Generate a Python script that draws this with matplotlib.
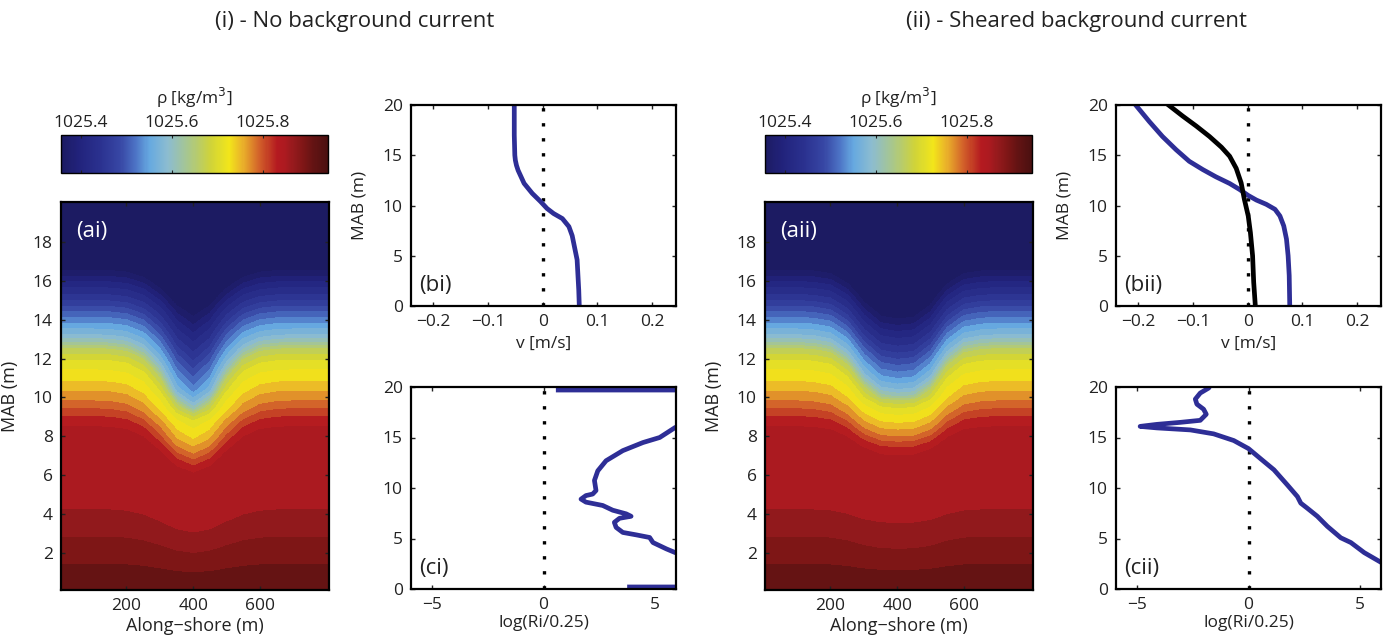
import numpy as np
import matplotlib
matplotlib.use("Agg")
import matplotlib.pyplot as plt
from matplotlib.colors import LinearSegmentedColormap, Normalize
from matplotlib.cm import ScalarMappable

plt.rcParams['font.family'] = ['Open Sans', 'DejaVu Sans']
plt.rcParams['font.size'] = 12
plt.rcParams['text.color'] = '#222222'
plt.rcParams['xtick.color'] = '#222222'
plt.rcParams['ytick.color'] = '#222222'
plt.rcParams['axes.labelcolor'] = '#222222'

# background density profile (far field), MAB vs rho
z_bg = [0, 1.4, 2.8, 4.2, 8.5, 9.0, 9.4, 9.8, 10.3, 10.8, 11.4, 11.9, 12.2,
        12.5, 12.8, 13.2, 13.8, 14.4, 15.1, 15.8, 16.5, 17.5, 20]
rho_bg = [1025.918, 1025.90, 1025.88, 1025.86, 1025.84, 1025.82, 1025.80,
          1025.78, 1025.76, 1025.74, 1025.72, 1025.70, 1025.68, 1025.66,
          1025.62, 1025.58, 1025.54, 1025.50, 1025.45, 1025.41, 1025.36,
          1025.35, 1025.345]

# isopycnal depression: along-shore shape and vertical amplitude (m)
x_dip = [0, 100, 150, 200, 250, 300, 350, 400, 450, 500, 550, 600, 650, 700, 810]
shape_i = [0, 0, 0.01, 0.05, 0.18, 0.45, 0.82, 1.0, 0.82, 0.45, 0.18, 0.05, 0.01, 0, 0]
shape_ii = [0, 0, 0.02, 0.08, 0.3, 0.7, 0.95, 1.0, 0.97, 0.75, 0.32, 0.08, 0.02, 0, 0]
z_amp_i = [0, 1.0, 1.97, 3.0, 6.45, 7.8, 8.7, 9.4, 10.4, 14.4, 20]
amp_i = [0, 0.45, 0.85, 1.2, 2.55, 3.0, 3.1, 3.5, 3.6, 2.3, 1.2]
z_amp_ii = [0, 2.1, 3.45, 7.4, 8.3, 9.65, 10.0, 11.0, 14.0, 20]
amp_ii = [0, 0.62, 0.7, 1.6, 2.0, 2.6, 2.8, 2.85, 2.5, 1.5]

# velocity profiles
z_bi = [20, 17, 15, 14.5, 14, 13.5, 12.2, 11.2, 10.4, 9.7, 9.2, 8.7, 7.9, 7,
        6.2, 4.6, 1.6, 0]
v_bi = [-0.052, -0.052, -0.051, -0.050, -0.048, -0.045, -0.034, -0.019, -0.004,
        0.008, 0.020, 0.036, 0.048, 0.054, 0.057, 0.063, 0.066, 0.067]
z_bii = [20, 18.35, 16.87, 15.55, 14.4, 13.57, 12.85, 12.19, 11.6, 11.0, 10.54,
         10.12, 9.62, 8.96, 7.97, 6.66, 5.0, 3.03, 0]
v_bii = [-0.205, -0.180, -0.156, -0.131, -0.107, -0.082, -0.058, -0.033, -0.015,
         0.001, 0.016, 0.034, 0.050, 0.059, 0.066, 0.071, 0.074, 0.076, 0.077]
z_bg_cur = [20, 18.9, 17.9, 16.87, 15.8, 14.9, 13.7, 12.26, 10.6, 8.96, 7.3,
            5.0, 2.37, 0]
v_bg_cur = [-0.145, -0.119, -0.094, -0.070, -0.048, -0.033, -0.021, -0.012,
            -0.006, 0.001, 0.005, 0.009, 0.011, 0.014]

# gradient Richardson number profiles
z_ci = [19.7, 19.7, 16.5, 16, 15.0, 14.5, 13.7, 12.7, 11.7, 10.75, 9.75, 9.4,
        9.25, 8.9, 8.6, 8.27, 7.8, 7.44, 7.2, 7.0, 6.6, 6.1, 5.6, 5.36, 5.1,
        4.6, 3.97, 3.6, 3.0, 0.2, 0.2]
ri_ci = [0.66, 9, 9, 5.9, 5.2, 4.45, 3.55, 2.8, 2.43, 2.28, 2.35, 2.2, 1.9,
         1.68, 1.9, 2.65, 3.1, 3.7, 3.92, 3.4, 3.17, 3.25, 3.55, 4.15, 4.75,
         4.9, 5.5, 5.9, 9, 9, 3.85]
z_cii = [20.2, 19.9, 19.4, 18.8, 18.3, 17.8, 17.3, 16.7, 16.5, 16.3, 16.1,
         15.95, 15.75, 15.36, 14.7, 13.9, 12.9, 11.8, 10.3, 9.15, 8.5, 8.0,
         7.2, 6.2, 5.07, 4.6, 3.6, 2.6, 2.0]
ri_cii = [-1.7, -1.78, -2.16, -2.38, -2.31, -2.01, -1.89, -2.16, -3.05, -4.1,
          -4.85, -4.1, -2.6, -1.56, -0.66, 0, 0.54, 1.14, 1.74, 2.19, 2.34,
          2.63, 3.08, 3.53, 4.13, 4.58, 5.18, 5.96, 7.0]

rho_ticks = [1025.4, 1025.6, 1025.8]
rho_min, rho_max = 1025.357, 1025.943

cmap = LinearSegmentedColormap.from_list('rho', [
    (0.00, '#1c1b62'), (0.06, '#21227a'), (0.14, '#2a308e'), (0.22, '#3746a4'),
    (0.28, '#4d74c6'), (0.33, '#66a9e0'), (0.40, '#8cbcd0'), (0.48, '#a9c78a'),
    (0.56, '#cfd33a'), (0.63, '#f2e61a'), (0.68, '#eab22a'), (0.74, '#d4652a'),
    (0.81, '#b41a20'), (0.84, '#ad1a20'), (0.87, '#961a1d'), (0.91, '#7e1616'),
    (0.95, '#621313'), (1.00, '#4a1010')])
levels = np.arange(1025.34, 1025.95, 0.02)
blue = '#2e2e96'

W, H = 1392, 639
fig = plt.figure(figsize=(W / 100, H / 100), dpi=100)


def ax_px(x0, y0, x1, y1):
    return fig.add_axes([x0 / W, 1 - y1 / H, (x1 - x0) / W, (y1 - y0) / H])


def style(ax):
    ax.tick_params(direction='in', top=True, right=True, length=3, width=1,
                   labelsize=12.5, pad=6)
    for s in ax.spines.values():
        s.set_linewidth(1.6)


def density_panel(x0, shape, z_amp, amp, tag):
    norm = Normalize(rho_min, rho_max)
    ax = ax_px(x0, 202, x0 + 268, 590)
    xx = np.arange(5, 806, 5)
    zz = np.arange(0.1, 20.01, 0.05)
    X, Z = np.meshgrid(xx, zz)
    eta = np.interp(Z, z_amp, amp) * np.interp(X, x_dip, shape)
    R = np.interp(Z + eta, z_bg, rho_bg)
    cs = ax.contourf(X, Z, R, levels=levels, cmap=cmap, norm=norm)
    cs.set_edgecolor('face')
    cs.set_linewidth(0.6)
    ax.set_xlim(5, 805)
    ax.set_ylim(0.1, 20.05)
    ax.set_xticks([200, 400, 600])
    ax.set_yticks(range(2, 19, 2))
    ax.set_xlabel('Along\u2212shore (m)', fontsize=13, labelpad=2)
    ax.set_ylabel('MAB (m)', fontsize=13)
    ax.yaxis.set_label_coords(-0.155, 0.5)
    ax.text(0.055, 0.925, tag, transform=ax.transAxes, color='white',
            fontsize=16, ha='left', va='center')
    style(ax)

    cax = ax_px(x0, 135, x0 + 267, 173)
    cb = fig.colorbar(ScalarMappable(norm=norm, cmap=cmap), cax=cax,
                      orientation='horizontal', ticks=rho_ticks)
    cb.ax.set_xticklabels([f'{t:.1f}' for t in rho_ticks])
    cax.xaxis.set_ticks_position('both')
    cax.xaxis.set_label_position('top')
    cax.tick_params(direction='in', length=2, labeltop=True, labelbottom=False,
                    labelsize=12.5, pad=3)
    cb.outline.set_linewidth(1)
    cax.set_xlabel('\u03c1 [kg/m$^3$]', fontsize=12.5, labelpad=8)


def velocity_panel(x0, tag, lines):
    ax = ax_px(x0, 105, x0 + 265, 306)
    ax.axvline(0, color='black', lw=2.4, ls=(0, (1, 3.5)))
    for v, z, c in lines:
        ax.plot(v, z, color=c, lw=3.4)
    ax.set_xlim(-0.241, 0.244)
    ax.set_ylim(0, 20)
    ax.set_xticks([-0.2, -0.1, 0, 0.1, 0.2])
    ax.set_xticklabels(['\u22120.2', '\u22120.1', '0', '0.1', '0.2'])
    ax.set_yticks([0, 5, 10, 15, 20])
    ax.set_xlabel('v [m/s]', fontsize=12.5, labelpad=4)
    ax.set_ylabel('MAB (m)', fontsize=12.5)
    ax.yaxis.set_label_coords(-0.165, 0.5)
    ax.text(0.03, 0.1, tag, transform=ax.transAxes, fontsize=16,
            ha='left', va='center')
    style(ax)


def ri_panel(x0, tag, ri, z):
    ax = ax_px(x0, 387, x0 + 265, 589)
    ax.axvline(0, color='black', lw=2.4, ls=(0, (1, 3.5)))
    ax.plot(ri, z, color=blue, lw=3.4)
    ax.set_xlim(-5.93, 5.93)
    ax.set_ylim(0, 20)
    ax.set_xticks([-5, 0, 5])
    ax.set_xticklabels(['\u22125', '0', '5'])
    ax.set_yticks([0, 5, 10, 15, 20])
    ax.set_xlabel('log(Ri/0.25)', fontsize=12.5, labelpad=1)
    ax.text(0.03, 0.1, tag, transform=ax.transAxes, fontsize=16,
            ha='left', va='center')
    style(ax)


# (i) no background current
density_panel(61, shape_i, z_amp_i, amp_i, '(ai)')
velocity_panel(411, '(bi)', [(v_bi, z_bi, blue)])
ri_panel(411, '(ci)', ri_ci, z_ci)

# (ii) sheared background current
density_panel(765, shape_ii, z_amp_ii, amp_ii, '(aii)')
velocity_panel(1116, '(bii)', [(v_bii, z_bii, blue), (v_bg_cur, z_bg_cur, 'black')])
ri_panel(1116, '(cii)', ri_cii, z_cii)

fig.text(355 / W, 1 - 22 / H, '(i) - No background current', fontsize=16,
         ha='center', va='center')
fig.text(1077 / W, 1 - 22 / H, '(ii) - Sheared background current', fontsize=16,
         ha='center', va='center')

fig.savefig('out.png', dpi=100)
